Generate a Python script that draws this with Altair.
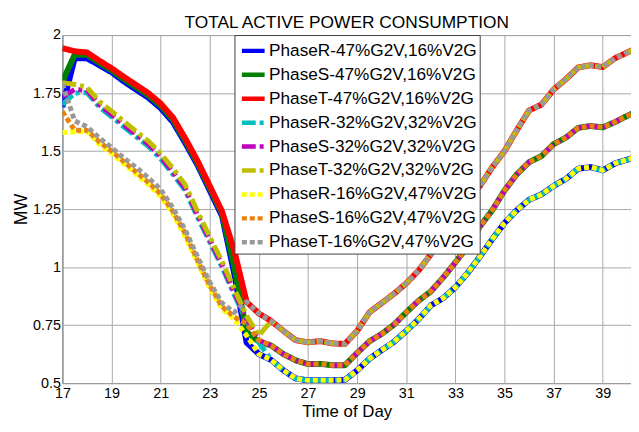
import altair as alt
import pandas as pd

hours = [17.0, 17.5, 18.0, 18.5, 19.0, 19.5, 20.0, 20.5, 21.0, 21.5, 22.0, 22.5,
         23.0, 23.5, 24.0, 24.5, 25.0, 25.5, 26.0, 26.5, 27.0, 27.5, 28.0, 28.5,
         29.0, 29.5, 30.0, 30.5, 31.0, 31.5, 32.0, 32.5, 33.0, 33.5, 34.0, 34.5,
         35.0, 35.5, 36.0, 36.5, 37.0, 37.5, 38.0, 38.5, 39.0, 39.5, 40.0, 40.5]

# heads: 17.0 .. 25.5 (before the scenarios converge)
head_R47 = [1.69, 1.90, 1.90, 1.87, 1.84, 1.80, 1.765, 1.73, 1.685, 1.625, 1.535, 1.44, 1.33, 1.22, 0.97, 0.675, 0.625, 0.600]
head_S47 = [1.80, 1.915, 1.915, 1.88, 1.848, 1.81, 1.775, 1.74, 1.695, 1.635, 1.545, 1.448, 1.34, 1.23, 1.0, 0.72, 0.679, 0.662]
head_T47 = [1.943, 1.93, 1.925, 1.89, 1.857, 1.82, 1.785, 1.75, 1.705, 1.645, 1.555, 1.458, 1.35, 1.24, 1.07, 0.85, 0.80, 0.768]
head_R32 = [1.70, 1.75, 1.752, 1.69, 1.648, 1.604, 1.562, 1.52, 1.467, 1.40, 1.33, 1.215, 1.108, 1.0, 0.88, 0.767, 0.675, 0.600]
head_S32 = [1.735, 1.765, 1.762, 1.70, 1.658, 1.614, 1.572, 1.53, 1.477, 1.41, 1.34, 1.225, 1.118, 1.01, 0.89, 0.777, 0.685, 0.662]
head_T32 = [1.795, 1.787, 1.775, 1.714, 1.672, 1.628, 1.585, 1.543, 1.49, 1.425, 1.355, 1.24, 1.13, 1.025, 0.905, 0.79, 0.705, 0.768]
head_R16 = [1.58, 1.583, 1.585, 1.53, 1.49, 1.445, 1.40, 1.355, 1.305, 1.23, 1.13, 1.02, 0.91, 0.82, 0.775, 0.705, 0.625, 0.600]
head_S16 = [1.67, 1.59, 1.59, 1.54, 1.50, 1.455, 1.41, 1.365, 1.315, 1.24, 1.145, 1.03, 0.92, 0.83, 0.785, 0.755, 0.685, 0.662]
head_T16 = [1.79, 1.63, 1.605, 1.557, 1.515, 1.47, 1.43, 1.385, 1.335, 1.255, 1.16, 1.045, 0.935, 0.845, 0.805, 0.85, 0.80, 0.768]

# tails: 26.0 .. 40.5 (same phase curves coincide)
tail_R = [0.555, 0.52, 0.512, 0.513, 0.512, 0.514, 0.555, 0.605, 0.642, 0.678, 0.725, 0.775, 0.835, 0.866, 0.913,
          0.975, 1.045, 1.12, 1.19, 1.245, 1.29, 1.313, 1.35, 1.38, 1.424, 1.431, 1.417, 1.447, 1.463, 1.48]
tail_S = [0.625, 0.598, 0.582, 0.583, 0.577, 0.577, 0.63, 0.68, 0.712, 0.752, 0.805, 0.855, 0.895, 0.955, 1.02,
          1.09, 1.175, 1.245, 1.33, 1.40, 1.452, 1.478, 1.53, 1.558, 1.60, 1.608, 1.602, 1.625, 1.652, 1.675]
tail_T = [0.725, 0.685, 0.676, 0.681, 0.671, 0.669, 0.725, 0.805, 0.845, 0.885, 0.93, 0.985, 1.055, 1.15, 1.218,
          1.29, 1.35, 1.43, 1.50, 1.59, 1.675, 1.70, 1.765, 1.81, 1.86, 1.87, 1.862, 1.90, 1.925, 1.95]

series_names = ["PhaseR-47%G2V,16%V2G", "PhaseS-47%G2V,16%V2G", "PhaseT-47%G2V,16%V2G",
                "PhaseR-32%G2V,32%V2G", "PhaseS-32%G2V,32%V2G", "PhaseT-32%G2V,32%V2G",
                "PhaseR-16%G2V,47%V2G", "PhaseS-16%G2V,47%V2G", "PhaseT-16%G2V,47%V2G"]
series_values = [head_R47 + tail_R, head_S47 + tail_S, head_T47 + tail_T,
                 head_R32 + tail_R, head_S32 + tail_S, head_T32 + tail_T,
                 head_R16 + tail_R, head_S16 + tail_S, head_T16 + tail_T]
colors = ["#0000FF", "#008000", "#FF0000", "#00BFBF", "#BF00BF", "#BFBF00",
          "#FFFF00", "#E8820C", "#999999"]
dashes = [[1, 0], [1, 0], [1, 0], [14, 4, 4, 4], [14, 4, 4, 4], [14, 4, 4, 4],
          [5, 3], [5, 3], [5, 3]]
widths = [6, 6, 6, 5, 5, 5, 5, 5, 5]

x_ticks = [17, 19, 21, 23, 25, 27, 29, 31, 33, 35, 37, 39]
y_ticks = [0.5, 0.75, 1, 1.25, 1.5, 1.75, 2]

rows = []
for name, vals in zip(series_names, series_values):
    for h, v in zip(hours, vals):
        rows.append({"hour": h, "mw": v, "series": name})
df = pd.DataFrame(rows)

FONT = "Liberation Sans"

x_enc = alt.X("hour:Q",
              scale=alt.Scale(domain=[17, 40.15], nice=False, zero=False),
              axis=alt.Axis(values=x_ticks, title="Time of Day", titleFontSize=17,
                            titleFontWeight="normal", titleFont=FONT, titleColor="black",
                            titleBaseline="alphabetic", titleY=34,
                            labelFontSize=14.5, labelFont=FONT, labelColor="black",
                            labelPadding=4, labelFlush=False, ticks=False, domain=False,
                            grid=True, gridColor="#a8a8a8", gridWidth=1))
y_enc = alt.Y("mw:Q",
              scale=alt.Scale(domain=[0.5, 2.0], nice=False, zero=False),
              axis=alt.Axis(values=y_ticks, format=".2~f", title="MW", titleFontSize=18,
                            titleFontWeight="normal", titleFont=FONT, titleColor="black",
                            titleBaseline="alphabetic", titleAngle=270, titleX=-36, titleY=176,
                            labelFontSize=14.5, labelFont=FONT, labelColor="black",
                            labelPadding=2, labelFlush=False, ticks=False, domain=False,
                            grid=True, gridColor="#a8a8a8", gridWidth=1))

legend = alt.Legend(title=None, orient="none", legendX=174, legendY=0, direction="vertical",
                    fillColor="white", strokeColor="#404040", padding=2,
                    symbolType="stroke", symbolSize=529, symbolStrokeWidth=4.5,
                    symbolOffset=3, labelFont=FONT, labelFontSize=17.4, labelColor="black",
                    labelOffset=2, rowPadding=1.2, labelLimit=400)

color_enc = alt.Color("series:N", scale=alt.Scale(domain=series_names, range=colors), legend=legend)
dash_enc = alt.StrokeDash("series:N", scale=alt.Scale(domain=series_names, range=dashes), legend=legend)

layers = []
for name, w in zip(series_names, widths):
    layers.append(
        alt.Chart(df).transform_filter(alt.datum.series == name)
        .mark_line(clip=True, strokeWidth=w, strokeCap="butt", strokeJoin="round")
        .encode(x=x_enc, y=y_enc, color=color_enc, strokeDash=dash_enc)
    )

chart = alt.layer(*layers).properties(
    width=575, height=352,
    title=alt.Title("TOTAL ACTIVE POWER CONSUMPTION", fontSize=17.5, font=FONT,
                    fontWeight="normal", color="black", anchor="middle", frame="group",
                    baseline="alphabetic", offset=4, dy=22),
    autosize=alt.AutoSizeParams(type="none"),
    padding={"left": 55, "top": 25, "right": 0, "bottom": 40},
    background="white",
).configure_view(stroke="#404040", strokeWidth=1)

chart.save("out.html", embed_options={"renderer": "svg", "actions": False})
